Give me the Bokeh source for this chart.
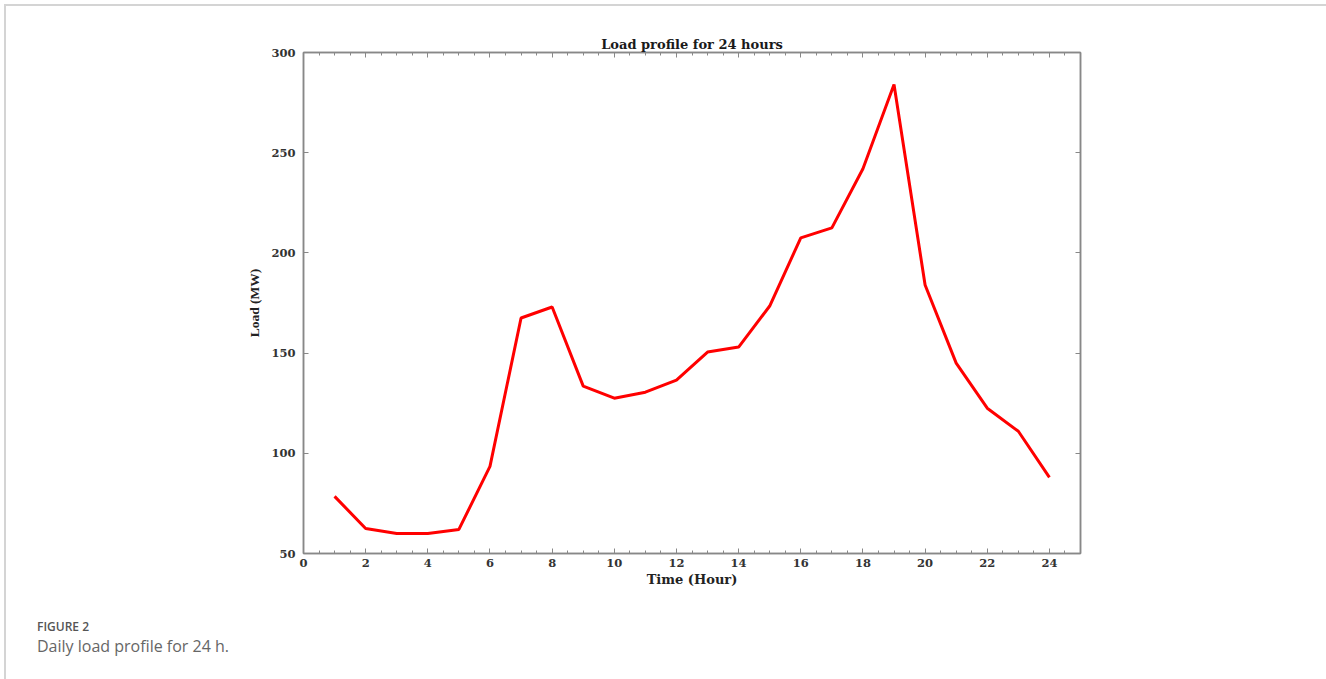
from bokeh.plotting import figure
from bokeh.models import (LinearAxis, SingleIntervalTicker, Range1d, FixedTicker, Div)
from bokeh.layouts import column
from bokeh.embed import file_html
from bokeh.resources import INLINE

hours = [1, 2, 3, 4, 5, 6, 7, 8, 9, 10, 11, 12, 13, 14, 15, 16, 17, 18, 19, 20, 21, 22, 23, 24]
load_mw = [78.5, 62.5, 60, 60, 62, 93.5, 167.5, 173, 133.5, 127.5, 130.5, 136.5,
           150.5, 153, 173.5, 207.5, 212.5, 242, 284, 184, 145, 122.5, 111, 88]
x_ticks = [0, 2, 4, 6, 8, 10, 12, 14, 16, 18, 20, 22, 24]
y_ticks = [50, 100, 150, 200, 250, 300]

OX, OY = 6, 6          # content origin inside the card border
PW, PH = 1316, 600
FL, FR, FT, FB = 303 - OX, 1080 - OX, 52 - OY, 553 - OY
SERIF = "DejaVu Serif"

p = figure(width=PW, height=PH, output_backend="svg", toolbar_location=None,
           x_range=Range1d(0, 25), y_range=Range1d(50, 300),
           min_border_left=FL, min_border_right=PW - FR,
           min_border_top=FT, min_border_bottom=PH - FB,
           title="Load profile for 24 hours")
p.title.align = "center"
p.title.text_font = SERIF
p.title.text_font_style = "bold"
p.title.text_font_size = "13px"
p.title.text_color = "#1a1a1a"
p.title.offset = 0
p.title.standoff = 2

p.grid.visible = False
p.outline_line_color = "#888888"
p.outline_line_width = 1.5

axis_col = "#888888"
tick_col = "#333333"

def style(ax, labels=True, minor=True):
    ax.axis_line_color = axis_col
    ax.axis_line_width = 1.5
    ax.major_tick_line_color = axis_col
    ax.major_tick_in = 5
    ax.major_tick_out = 0
    if minor:
        ax.minor_tick_line_color = axis_col
        ax.minor_tick_in = 3
        ax.minor_tick_out = 0
    else:
        ax.minor_tick_line_color = None
    ax.major_label_text_font = SERIF
    ax.major_label_text_font_style = "bold"
    ax.major_label_text_font_size = "11.5px"
    ax.major_label_text_color = tick_col
    if not labels:
        ax.major_label_text_font_size = "0px"
        ax.major_label_text_color = None

p.xaxis.ticker = SingleIntervalTicker(interval=2, num_minor_ticks=4)
p.yaxis.ticker = FixedTicker(ticks=y_ticks)
style(p.xaxis[0])
style(p.yaxis[0], minor=False)
p.xaxis.axis_label = "Time (Hour)"
p.yaxis.axis_label = "Load (MW)"
p.xaxis.axis_label_text_font = SERIF
p.yaxis.axis_label_text_font = "Liberation Serif"
for ax in (p.xaxis[0], p.yaxis[0]):
    ax.axis_label_text_font_style = "bold"
    ax.axis_label_text_color = "#222222"
p.xaxis.axis_label_text_font_size = "13px"
p.yaxis.axis_label_text_font_size = "13.5px"
p.xaxis.axis_label_standoff = 2
p.yaxis.axis_label_standoff = 6
p.xaxis.major_label_standoff = 5
p.yaxis.major_label_standoff = 8

top = LinearAxis(ticker=SingleIntervalTicker(interval=2, num_minor_ticks=4))
style(top, labels=False)
right = LinearAxis(ticker=FixedTicker(ticks=y_ticks))
style(right, labels=False, minor=False)
p.add_layout(top, "above")
p.add_layout(right, "right")

p.line(hours, load_mw, line_color="#ff0000", line_width=3)

caption = Div(
    text=('<div style="font-family:\'Open Sans\';padding-left:26px;padding-top:7px;">'
          '<div style="font-weight:600;font-size:12px;line-height:18px;color:#555555;">FIGURE 2</div>'
          '<div style="font-size:16px;line-height:20px;color:#666666;">Daily load profile for 24 h.</div>'
          '</div>'),
    width=PW, height=64)

layout = column(p, caption, spacing=0,
                styles={"margin-left": "4px", "margin-top": "4px",
                        "border-left": "2px solid #d4d4d4",
                        "border-top": "2px solid #d4d4d4"})

open("out.html", "w").write(file_html(layout, INLINE))
